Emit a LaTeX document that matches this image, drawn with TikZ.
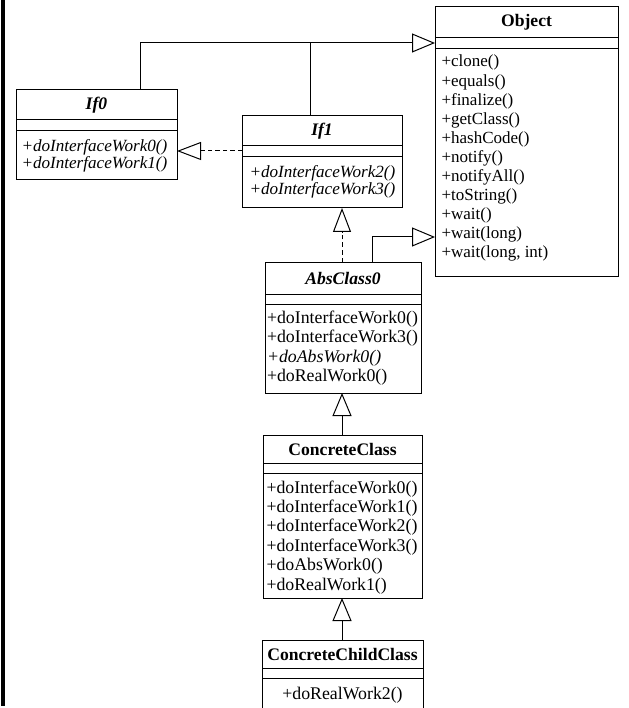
\documentclass[tikz,border=0pt]{standalone}
\usepackage{fontspec}
\setmainfont{Liberation Serif}
\usetikzlibrary{arrows.meta,calc}
\begin{document}
\begin{tikzpicture}[x=1pt,y=-1pt,line width=1pt,
  cls/.style={draw,inner sep=0pt,outer sep=0pt,anchor=north west},
  ttl/.style={font=\fontsize{17.6}{20}\selectfont\bfseries,inner sep=0pt},
  itm/.style={font=\fontsize{17.8}{20}\selectfont,inner sep=0pt,anchor=west,text height=12pt,text depth=4pt},
  oitm/.style={itm,font=\fontsize{17}{20}\selectfont},
  iitm/.style={itm,font=\fontsize{17.1}{20}\selectfont\itshape},
  gen/.style={-{Triangle[open,length=23pt,width=19pt]}},
  realz/.style={dash pattern=on 4.5pt off 3pt,-{Triangle[open,length=24pt,width=18pt]}}]
\useasboundingbox (0,0) rectangle (628,708);
% left bar
\fill (1,0) rectangle (5,706);

% Object
\node[cls,minimum width=183pt,minimum height=269pt] (obj) at (435,7) {};
\draw (435,38) -- (618,38) (435,49) -- (618,49);
\node[ttl] (objt) at (526.5,22.5) {Object};
\foreach \t [count=\i from 0] in {+clone(),+equals(),+finalize(),+getClass(),+hashCode(),+notify(),+notifyAll(),+toString(),+wait(),+wait(long),{+wait(long, int)}}
  \node[oitm] (obji\i) at (441,63+19.1*\i) {\t};

% If0
\node[cls,minimum width=161pt,minimum height=90pt] (if0) at (16,90) {};
\draw (16,120) -- (177,120) (16,131) -- (177,131);
\node[ttl] (if0t) at (96.5,105) {\itshape If0};
\node[iitm] (if0a) at (21,148) {+doInterfaceWork0()};
\node[iitm] (if0b) at (21,165) {+doInterfaceWork1()};

% If1
\node[cls,minimum width=160pt,minimum height=92pt] (if1) at (242,116) {};
\draw (242,146) -- (402,146) (242,157) -- (402,157);
\node[ttl] (if1t) at (322,131) {\itshape If1};
\node[iitm] (if1a) at (249,174) {+doInterfaceWork2()};
\node[iitm] (if1b) at (249,190.5) {+doInterfaceWork3()};

% AbsClass0
\node[cls,minimum width=156pt,minimum height=131pt] (abs) at (265,262) {};
\draw (265,294) -- (421,294) (265,304) -- (421,304);
\node[ttl] (abst) at (343,278) {\itshape AbsClass0};
\node[itm] (absa) at (266.5,319) {+doInterfaceWork0()};
\node[itm] (absb) at (266.5,338.5) {+doInterfaceWork3()};
\node[itm] (absc) at (266.5,358) {\itshape +doAbsWork0()};
\node[itm] (absd) at (266.5,377.5) {+doRealWork0()};

% ConcreteClass
\node[cls,minimum width=159pt,minimum height=163pt] (cc) at (263,435) {};
\draw (263,463) -- (422,463) (263,473) -- (422,473);
\node[ttl] (cct) at (342.5,449) {ConcreteClass};
\foreach \t [count=\i from 0] in {+doInterfaceWork0(),+doInterfaceWork1(),+doInterfaceWork2(),+doInterfaceWork3(),+doAbsWork0(),+doRealWork1()}
  \node[itm] (cci\i) at (266,489+19.4*\i) {\t};

% ConcreteChildClass (cut off at the bottom)
\draw (262,712) -- (262,640) -- (423,640) -- (423,712);
\node[inner sep=0pt,minimum width=161pt,minimum height=72pt,anchor=north west] (ccc) at (262,640) {};
\draw (262,668) -- (423,668) (262,678) -- (423,678);
\node[ttl] (ccct) at (342.5,654) {ConcreteChildClass};
\node[itm,anchor=center] (ccca) at (342.5,695) {+doRealWork2()};

% connectors
\coordinate (objIn1) at ($(obj.north west)+(0,36)$);
\coordinate (objIn2) at ($(obj.north west)+(0,230)$);
\coordinate (if0top) at ($(if0.north west)+(124,0)$);
\coordinate (if1top) at ($(if1.north west)+(68,0)$);
\draw[gen] (if0top) |- (objIn1);
\draw (if1top) -- (if1top |- objIn1);
\draw[realz] ($(if1.north west)+(0,35)$) -- ($(if0.north east)+(0,61)$);
\draw[realz] (abs.north -| 342,0) -- (if1.south -| 342,0);
\coordinate (absR) at ($(abs.north west)+(107,0)$);
\draw[gen] (absR) |- (objIn2);
\draw[gen] (cc.north -| 342,0) -- (abs.south -| 342,0);
\draw[gen] (ccc.north -| 342,0) -- (cc.south -| 342,0);
\end{tikzpicture}
\end{document}
